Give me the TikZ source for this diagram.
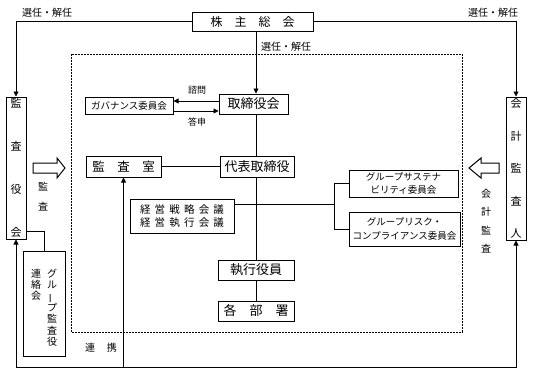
\documentclass[tikz,border=0pt]{standalone}
\usepackage{fontspec}
\setmainfont{Noto Sans CJK JP}
\usetikzlibrary{arrows.meta,calc}

\begin{document}
\begin{tikzpicture}[x=1pt, y=-1pt, line join=miter, >={Triangle[length=5pt,width=5pt]},
    box/.style={draw, line width=1pt, inner sep=0pt, font=\fontsize{13}{15}\selectfont},
    small/.style={font=\fontsize{9.5}{13.5}\selectfont},
    lbl/.style={inner sep=0pt, font=\fontsize{10}{12}\selectfont},
    conn/.style={line width=0.8pt}]
    \useasboundingbox (0,0) rectangle (534,373);
    \coordinate (spine) at (256,60);
    \coordinate (junc) at (256,204);
    \coordinate (branch) at (334,204);
    \coordinate (base) at (0,367);
    % group boundary
    \draw[dash pattern=on 2pt off 1pt, line width=0.8pt] (71,54) rectangle (462,332);
    % boxes
    \node[box, minimum width=121pt, minimum height=19pt, font=\fontsize{12}{14}\selectfont] (soukai) at (252.5,21.5) {株　主　総　会};
    \node[box, minimum width=69pt, minimum height=20pt] (torishimari) at (253.5,104) {取締役会};
    \node[box, small, minimum width=88pt, minimum height=17pt] (governance) at (129,105.5) {ガバナンス委員会};
    \node[box, minimum width=74pt, minimum height=21pt] (daihyo) at (257,166.5) {代表取締役};
    \node[box, minimum width=75pt, minimum height=21pt, font=\fontsize{12.5}{14}\selectfont] (kansashitsu) at (123.5,166.5) {監　査　室};
    \node[box, align=center, minimum width=104pt, minimum height=34pt, font=\fontsize{10.5}{13}\selectfont] (keiei) at (182,216)
        {経\hspace{.4em}営\hspace{.4em}戦\hspace{.4em}略\hspace{.4em}会\hspace{.4em}議\\経\hspace{.4em}営\hspace{.4em}執\hspace{.4em}行\hspace{.4em}会\hspace{.4em}議};
    \node[box, small, align=center, minimum width=109pt, minimum height=27pt] (sustain) at (403.5,183.5) {グループサステナ\\ビリティ委員会};
    \node[box, small, align=center, minimum width=111pt, minimum height=34pt] (risk) at (404.5,229) {グループリスク・\\コンプライアンス委員会};
    \node[box, minimum width=76pt, minimum height=20pt] (shikko) at (256,270) {執行役員};
    \node[box, minimum width=76pt, minimum height=20pt] (kakubusho) at (256,311) {各　部　署};
    \node[box, align=center, minimum width=20pt, minimum height=142pt, font=\fontsize{11}{43}\selectfont] (kansayaku) at (16,168) {監\\査\\役\\会};
    \node[box, align=center, minimum width=20pt, minimum height=143pt, font=\fontsize{11}{32.5}\selectfont] (kaikei) at (516,168.5) {会\\計\\監\\査\\人};
    \node[box, minimum width=42pt, minimum height=105pt] (renraku) at (44,303.5) {};
    \node[lbl, align=center, anchor=north, font=\fontsize{10}{11.3}\selectfont] (renraku-r) at (52,269) {グ\\ル\\\rotatebox[origin=c]{90}{ー}\\プ\\監\\査\\役};
    \node[lbl, align=center, anchor=north, font=\fontsize{10}{10.8}\selectfont] (renraku-l) at (36,269) {連\\絡\\会};
    % audit arrows
    \draw[line width=1pt] (33,163) -- (57,163) -- (57,158) -- (65,168) -- (57,178) -- (57,173) -- (33,173) -- cycle;
    \draw[line width=1pt] (499,163) -- (481,163) -- (481,158) -- (469,168) -- (481,178) -- (481,173) -- (499,173) -- cycle;
    % labels
    \node[lbl] (sennin-l) at (47,13) {選任・解任};
    \node[lbl] (sennin-r) at (493,13) {選任・解任};
    \node[lbl] (sennin-c) at (286,47) {選任・解任};
    \node[lbl, font=\fontsize{9}{11}\selectfont] (shimon) at (197,90) {諮問};
    \node[lbl, font=\fontsize{9}{11}\selectfont] (toushin) at (197,122) {答申};
    \node[lbl, align=center, font=\fontsize{10}{20}\selectfont] (kansa-l) at (43,197) {監\\査};
    \node[lbl, align=center, font=\fontsize{10}{18.5}\selectfont] (kansa-r) at (486,221) {会\\計\\監\\査};
    \node[lbl] (renkei) at (101,348) {連\hspace{1.2em}携};
    % connectors
    \draw[conn, ->] (soukai.south -| spine) -- (torishimari.north -| spine);
    \draw[conn] (torishimari.south -| spine) -- (daihyo.north -| spine);
    \draw[conn] (daihyo.south -| spine) -- (shikko.north -| spine);
    \draw[conn] (shikko.south) -- (kakubusho.north);
    \draw[conn, ->] ([yshift=3pt]torishimari.west) -- ([yshift=3pt]torishimari.west -| governance.east);
    \draw[conn, ->] ([yshift=-7pt]torishimari.west -| governance.east) -- ([yshift=-7pt]torishimari.west);
    \draw[conn] (kansashitsu) -- (daihyo);
    \draw[conn] (keiei.east |- junc) -- (branch);
    \draw[conn] (sustain.west) -- (sustain.west -| branch) -- (risk.west -| branch) -- (risk.west);
    \draw[conn, ->] (soukai.west) -- (soukai.west -| kansayaku.north) -- (kansayaku.north);
    \draw[conn, ->] (soukai.east) -- (soukai.east -| kaikei.north) -- (kaikei.north);
    \draw[conn, <->] (kansayaku.south) -- (kansayaku.south |- base) -- (kaikei.south |- base) -- (kaikei.south);
    \draw[conn, ->] (kansashitsu.south |- base) -- (kansashitsu.south);
    \draw[conn] ([yshift=-63pt]kansayaku.east) -| (renraku.north);
\end{tikzpicture}
\end{document}
